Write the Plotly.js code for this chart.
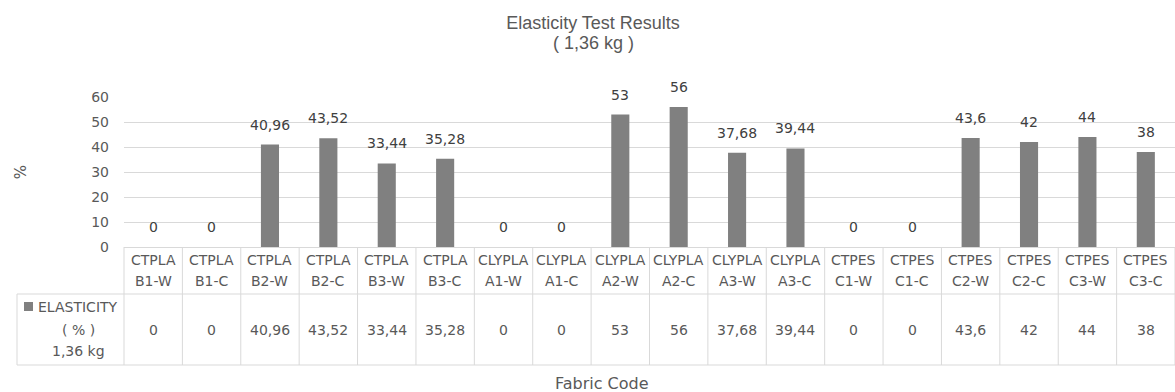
<!DOCTYPE html>
<html>
<head>
<meta charset="utf-8">
<script src="https://cdn.plot.ly/plotly-3.0.1.min.js"></script>
<style>html,body{margin:0;padding:0;background:#fff;}#chart{width:1175px;height:392px;}</style>
</head>
<body>
<div id="chart"></div>
<script>
// ---- data ----
const groupLabels = ["CTPLA","CTPLA","CTPLA","CTPLA","CTPLA","CTPLA","CLYPLA","CLYPLA","CLYPLA","CLYPLA","CLYPLA","CLYPLA","CTPES","CTPES","CTPES","CTPES","CTPES","CTPES"];
const codeLabels = ["B1-W","B1-C","B2-W","B2-C","B3-W","B3-C","A1-W","A1-C","A2-W","A2-C","A3-W","A3-C","C1-W","C1-C","C2-W","C2-C","C3-W","C3-C"];
const elasticity = [0, 0, 40.96, 43.52, 33.44, 35.28, 0, 0, 53, 56, 37.68, 39.44, 0, 0, 43.6, 42, 44, 38];
const seriesName = "ELASTICITY";
const seriesUnit = "( % )";
const seriesLoad = "1,36 kg";
const yTicks = [0, 10, 20, 30, 40, 50, 60];

// ---- layout geometry (pixels) ----
const W = 1175, H = 392;
const mL = 124, mR = 0, mT = 97, mB = 145;
const plotW = W - mL - mR, plotH = H - mT - mB;
const px2x = p => (p - mL) / plotW;            // pixel x -> paper x
const py2y = p => (H - mB - p) / plotH;        // pixel y -> paper y

const categories = groupLabels.map((g, i) => g + " " + codeLabels[i]);
const fmt = v => String(v).replace('.', ',');
const txtColor = '#595959';
const gridColor = '#d9d9d9';
const font = 'DejaVu Sans, sans-serif';
const titleFont = 'Liberation Sans, Arial, sans-serif';

const n = categories.length;
const shapes = [];
const annotations = [];

// table vertical lines (category boundaries)
for (let k = 0; k <= n; k++) {
  const xp = k / n;
  shapes.push({type:'line', xref:'paper', yref:'paper', x0:xp, x1:xp, y0:0, y1:py2y(365),
    line:{color:gridColor, width:1}});
}
// table horizontal lines
[294, 365].forEach(py => shapes.push({type:'line', xref:'paper', yref:'paper',
  x0:px2x(17), x1:1, y0:py2y(py), y1:py2y(py), line:{color:gridColor, width:1}}));
// left border of legend cell
shapes.push({type:'line', xref:'paper', yref:'paper', x0:px2x(17), x1:px2x(17),
  y0:py2y(294), y1:py2y(365), line:{color:gridColor, width:1}});
// legend key
shapes.push({type:'rect', xref:'paper', yref:'paper', x0:px2x(24), x1:px2x(33),
  y0:py2y(311), y1:py2y(302), fillcolor:'#808080', line:{width:0}});

// header labels & values row & data labels
categories.forEach((c, i) => {
  annotations.push({xref:'x', yref:'paper', x:c, y:py2y(260), text:groupLabels[i], showarrow:false,
    font:{family:font, size:14, color:txtColor}, yanchor:'middle'});
  annotations.push({xref:'x', yref:'paper', x:c, y:py2y(281), text:codeLabels[i], showarrow:false,
    font:{family:font, size:14, color:txtColor}, yanchor:'middle'});
  annotations.push({xref:'x', yref:'paper', x:c, y:py2y(330), text:fmt(elasticity[i]), showarrow:false,
    font:{family:font, size:14, color:txtColor}, yanchor:'middle'});
  annotations.push({xref:'x', yref:'y', x:c, y:elasticity[i], text:fmt(elasticity[i]), showarrow:false,
    font:{family:font, size:14, color:'#404040'}, yanchor:'bottom', yshift:10});
});
// legend cell text
[[seriesName,307],[seriesUnit,330],[seriesLoad,351]].forEach(([t,py]) => annotations.push({
  xref:'paper', yref:'paper', x:px2x(78), y:py2y(py), text:t, showarrow:false,
  font:{family:font, size:14, color:txtColor}, xanchor:'center', yanchor:'middle'}));
// title second line
annotations.push({xref:'paper', yref:'paper', x:px2x(593), y:py2y(43), text:'( 1,36 kg )', showarrow:false,
  font:{family:titleFont, size:18, color:txtColor}, xanchor:'center', yanchor:'middle'});
// x axis title
annotations.push({xref:'paper', yref:'paper', x:px2x(602), y:py2y(383), text:'Fabric Code', showarrow:false,
  font:{family:font, size:16, color:txtColor}, xanchor:'center', yanchor:'middle'});

const trace = {
  type:'bar', x:categories, y:elasticity, name:seriesName,
  marker:{color:'#808080'}, hoverinfo:'x+y'
};

const layout = {
  width:W, height:H,
  margin:{l:mL, r:mR, t:mT, b:mB, pad:0},
  paper_bgcolor:'#fff', plot_bgcolor:'#fff',
  showlegend:false,
  bargap:0.69,
  title:{text:'Elasticity Test Results', x:593/W, xref:'container', xanchor:'center',
    y:1 - 23/H, yref:'container', yanchor:'middle',
    font:{family:titleFont, size:18, color:txtColor}},
  xaxis:{type:'category', categoryarray:categories, range:[-0.5, n - 0.5], showticklabels:false,
    showgrid:false, zeroline:false, showline:false, ticks:'', fixedrange:true},
  yaxis:{range:[0, 60], tickvals:yTicks, ticktext:yTicks.map(String), showgrid:true, gridcolor:gridColor,
    gridwidth:1, zeroline:true, zerolinecolor:gridColor, zerolinewidth:1, showline:false, ticks:'',
    ticklabelstandoff:14, tickfont:{family:font, size:14, color:txtColor},
    title:{text:'%', font:{family:font, size:15, color:txtColor}, standoff:60}},
  shapes:shapes,
  annotations:annotations
};

Plotly.newPlot('chart', [trace], layout, {displayModeBar:false, staticPlot:true});
</script>
</body>
</html>
